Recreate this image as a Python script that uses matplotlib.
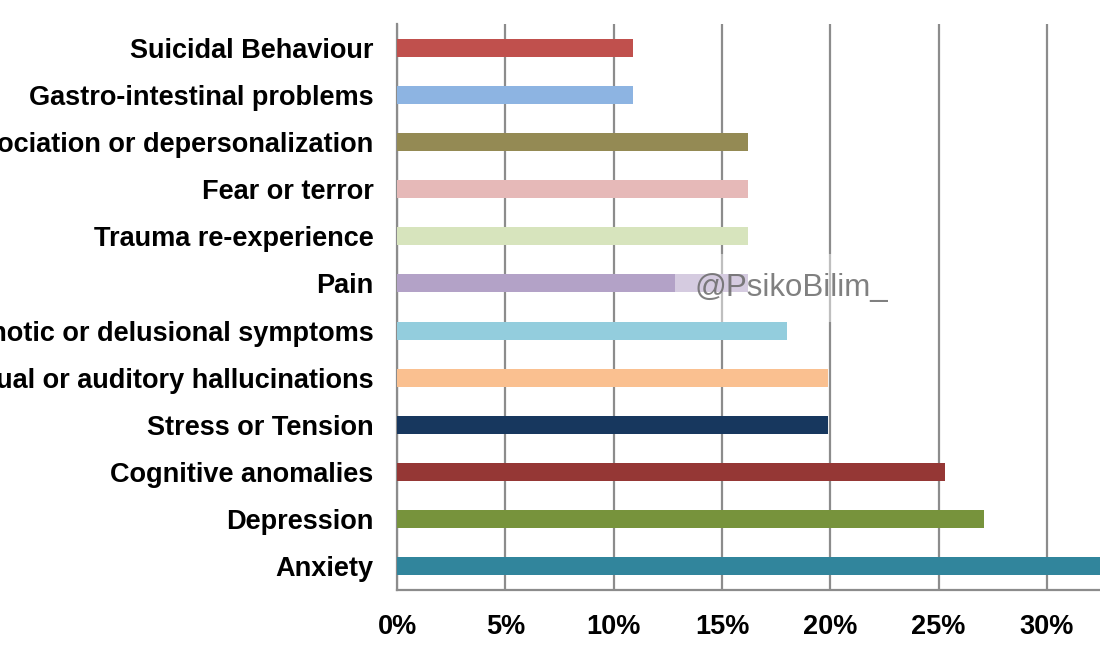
import matplotlib.pyplot as plt
from matplotlib.ticker import FuncFormatter

# data, top to bottom as shown
categories = ["Suicidal Behaviour", "Gastro-intestinal problems",
              "Dissociation or depersonalization", "Fear or terror",
              "Trauma re-experience", "Pain",
              "Psychotic or delusional symptoms",
              "Visual or auditory hallucinations", "Stress or Tension",
              "Cognitive anomalies", "Depression", "Anxiety"]
values = [10.9, 10.9, 16.2, 16.2, 16.2, 16.2, 18.0, 19.9, 19.9, 25.3, 27.1, 34.5]
colors = ["#C0504D", "#8DB4E2", "#948A54", "#E6B9B8", "#D7E4BD", "#B3A2C7",
          "#93CDDD", "#FAC090", "#17375E", "#953735", "#77933C", "#31859C"]
xticks = [0, 5, 10, 15, 20, 25, 30]

plt.rcParams['font.family'] = ['Liberation Sans', 'DejaVu Sans']

fig = plt.figure(figsize=(11, 6.5), dpi=100)
ax = fig.add_axes([0.361, 0.0923, 0.639, 0.8707])

ypos = list(range(len(categories)))
ax.barh(ypos, values, height=0.38, color=colors, zorder=3)
ax.set_ylim(len(categories) - 0.5, -0.5)
ax.set_xlim(0, 32.45)

ax.set_yticks(ypos)
ax.set_yticklabels(categories, fontsize=19.5, fontweight='bold')
ax.set_xticks(xticks)
ax.xaxis.set_major_formatter(FuncFormatter(lambda v, p: f"{int(v)}%"))
for lab in ax.get_xticklabels():
    lab.set_fontweight('bold')
    lab.set_family(['Liberation Sans Narrow', 'Liberation Sans'])
    lab.set_fontsize(19.5)
ax.tick_params(axis='y', length=0, pad=17)
ax.tick_params(axis='x', length=0, pad=17)

ax.grid(axis='x', color='#8c8c8c', linewidth=1.6, zorder=1)
ax.grid(axis='y', visible=False)
for s in ['top', 'right']:
    ax.spines[s].set_visible(False)
ax.spines['bottom'].set_color('#8c8c8c')
ax.spines['bottom'].set_linewidth(1.6)
ax.spines['left'].set_color('#8c8c8c')
ax.spines['left'].set_linewidth(1.6)

fig.text(0.631, 0.557, "@PsikoBilim_", fontsize=22.5, color='#6a6a6a',
         alpha=0.85, ha='left', va='center', zorder=10,
         bbox=dict(boxstyle='square,pad=0.6', facecolor='white',
                   edgecolor='none', alpha=0.45))

fig.savefig("out.png", dpi=100)
